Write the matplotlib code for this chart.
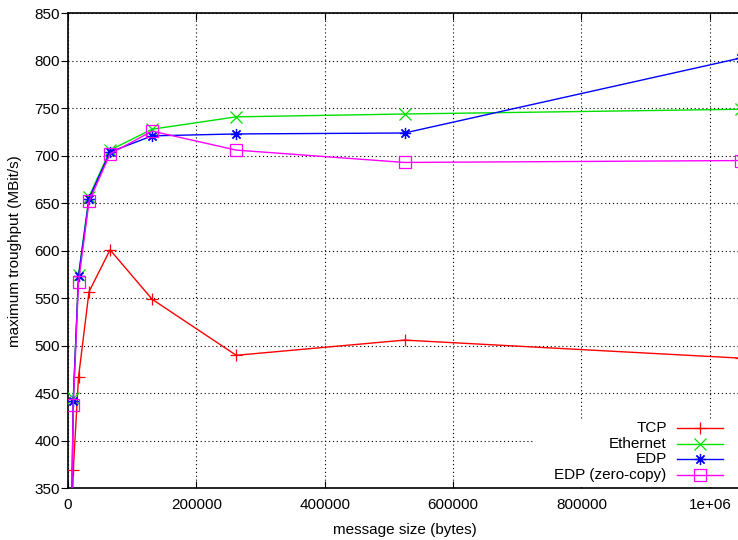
import numpy as np
import matplotlib.pyplot as plt
from matplotlib.lines import Line2D
from matplotlib.patches import Rectangle

plt.rcParams['font.family'] = ['Liberation Sans', 'DejaVu Sans']

# message sizes (bytes)
sizes = [4096, 8192, 16384, 32768, 65536, 131072, 262144, 524288, 1048576]

tcp = [250, 369, 467, 557, 601, 549, 490, 506, 487]
ethernet = [250, 445, 575, 657, 706, 728, 741, 744, 749]
edp = [250, 442, 573, 655, 704, 721, 723, 724, 803]
edp_zc = [250, 438, 567, 652, 702, 726, 706, 693, 695]

names = ["TCP", "Ethernet", "EDP", "EDP (zero-copy)"]
colors = ["#ff0000", "#00e000", "#0000ff", "#ff00ff"]
markers = ["+", "x", (8, 2, 0), "s"]
fs = 11

fig = plt.figure(figsize=(7.38, 5.4), dpi=100)
ax = fig.add_axes([68/738, 51.7/540, 673/738, 475/540])

series = [tcp, ethernet, edp, edp_zc]
for vals, c, m in zip(series, colors, markers):
    ax.plot(sizes, vals, color=c, lw=1, marker=m, ms=8, mew=0.9,
            mfc='none', zorder=3)

ax.set_xlim(0, 1048576)
ax.set_ylim(350, 850)
ax.set_xticks([0, 200000, 400000, 600000, 800000, 1000000])
ax.set_xticklabels(["0", "200000", "400000", "600000", "800000", "1e+06"])
ax.set_yticks(np.arange(350, 851, 50))
ax.tick_params(axis='x', direction='in', length=5, top=True, labelsize=fs, pad=7)
ax.tick_params(axis='y', direction='out', length=5, right=False, labelsize=fs, pad=1)
ax.grid(True, color='black', lw=0.8, linestyle=(0, (1, 2.5)))
ax.set_axisbelow(True)
ax.set_xlabel("message size (bytes)", fontsize=fs, labelpad=8)
ax.set_ylabel("maximum troughput (MBit/s)", fontsize=fs, labelpad=9)
for s in ax.spines.values():
    s.set_linewidth(1.2)

# gnuplot-style key with opaque background
ax.add_patch(Rectangle((0.691, 0.002), 0.309, 0.144, transform=ax.transAxes,
                       facecolor='white', edgecolor='none', zorder=2))
rows = [0.1263, 0.0939, 0.0611, 0.0286]
for name, c, m, yy in zip(names, colors, markers, rows):
    ax.text(0.8896, yy, name, transform=ax.transAxes, ha='right', va='center',
            fontsize=fs, zorder=4)
    ax.add_line(Line2D([0.905, 0.973], [yy, yy], transform=ax.transAxes,
                       color=c, lw=1, zorder=4))
    ax.add_line(Line2D([0.939], [yy], transform=ax.transAxes, color=c,
                       marker=m, ms=8, mew=0.9, mfc='none', zorder=4))

fig.savefig("out.png", dpi=100)
